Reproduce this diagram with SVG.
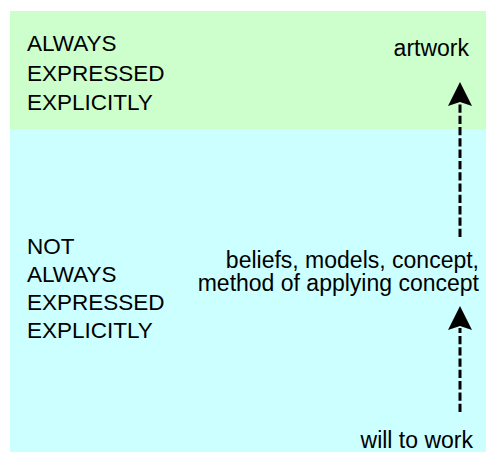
<svg xmlns="http://www.w3.org/2000/svg" width="486" height="452" viewBox="0 0 486 452">
  <style>
    text { font-family: "Liberation Sans", Arial, sans-serif; fill: #000; }
    .lbl { font-size: 22.5px; }
    .node { font-size: 23px; text-anchor: end; }
    .conn { stroke: #000; stroke-width: 3; stroke-dasharray: 8.3 3; fill: none; }
  </style>
  <defs>
    <marker id="head" markerUnits="userSpaceOnUse" markerWidth="26" markerHeight="26" viewBox="0 0 26 26" refX="2" refY="12" orient="auto" overflow="visible">
      <path d="M24,12 L0,0 L4,12 L0,24 Z" fill="#000" stroke="none"/>
    </marker>
  </defs>
  <rect id="bg-explicit" x="10" y="11" width="476" height="118" fill="#ccffcc"/>
  <rect id="bg-implicit" x="10" y="129" width="476" height="323" fill="#ccffff"/>
  <g id="label-explicit" class="lbl">
    <text x="27" y="51">ALWAYS</text>
    <text x="27" y="80.5">EXPRESSED</text>
    <text x="27" y="109.5">EXPLICITLY</text>
  </g>
  <g id="label-implicit" class="lbl">
    <text x="27" y="253.5">NOT</text>
    <text x="27" y="281.5">ALWAYS</text>
    <text x="27" y="309.5">EXPRESSED</text>
    <text x="27" y="337.5">EXPLICITLY</text>
  </g>
  <g id="connectors">
    <line class="conn" x1="460" y1="237" x2="460" y2="104" marker-end="url(#head)"/>
    <line class="conn" x1="460" y1="412" x2="460" y2="328" marker-end="url(#head)"/>
  </g>
  <g id="node-artwork">
    <text class="node" x="469" y="56">artwork</text>
  </g>
  <g id="node-beliefs">
    <text class="node" x="479" y="267.5">beliefs, models, concept,</text>
    <text class="node" x="479" y="290.5">method of applying concept</text>
  </g>
  <g id="node-will">
    <text class="node" x="473" y="448">will to work</text>
  </g>
</svg>
